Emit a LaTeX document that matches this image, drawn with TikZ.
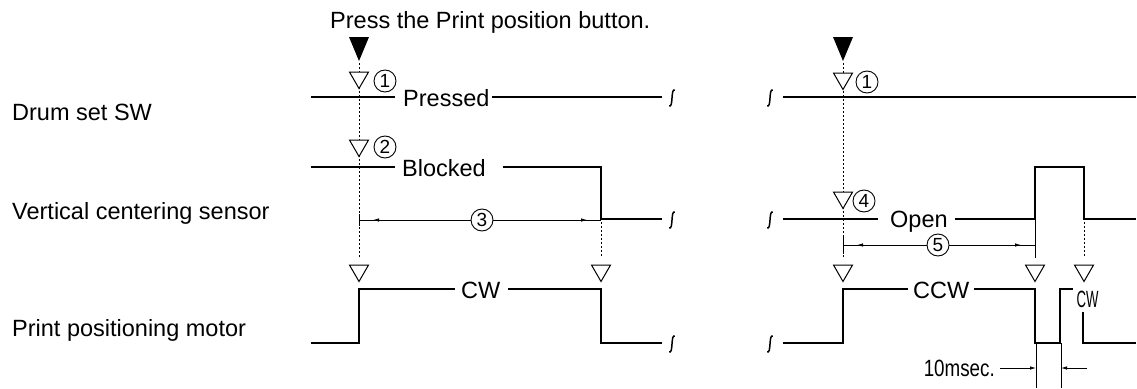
\documentclass[tikz,border=0pt]{standalone}
\usepackage{fontspec}
\setmainfont{Liberation Sans}
\usetikzlibrary{arrows.meta,shapes.geometric,decorations.markings}

\tikzset{
  brkmark/.pic={\draw[line width=1.5pt] (2.8,-8) .. controls (-1.5,-10) and (1.5,10) .. (-2.8,8);}
}

\begin{document}
\begin{tikzpicture}[x=1pt,y=-1pt,
  sig/.style={line width=2.2pt},
  thinline/.style={line width=0.8pt},
  guide/.style={line width=0.9pt, dash pattern=on 1.5pt off 2.5pt},
  txt/.style={font=\fontsize{23.5}{26}\selectfont, inner sep=0pt},
  lbl/.style={txt, anchor=base west},
  opentri/.style={draw, fill=white, regular polygon, regular polygon sides=3,
    shape border rotate=180, minimum size=22pt, inner sep=0pt, line width=1pt},
  circnum/.style={draw, fill=white, circle, minimum size=22pt, inner sep=0pt,
    line width=0.9pt, font=\fontsize{19}{19}\selectfont},
  dimarr/.style={thinline, postaction={decorate}, decoration={markings,
    mark=at position 14pt with {\arrowreversed{Latex[length=6pt,width=3.5pt]}},
    mark=at position -14pt with {\arrow{Latex[length=6pt,width=3.5pt]}}}}
]
\useasboundingbox (0,0) rectangle (1137,388);

% signal names
\node[lbl] (presslbl) at (330,28) {Press the Print position button.};
\node[lbl] (drumlbl) at (12,120) {Drum set SW};
\node[lbl] (senslbl) at (12,219) {Vertical centering sensor};
\node[lbl] (motlbl) at (12,336) {Print positioning motor};

% guide lines
\draw[guide] (359,63) -- (359,258);
\draw[guide] (843,63) -- (843,258);
\draw[guide] (601,222) -- (601,258);
\draw[guide] (1084,222) -- (1084,258);
\draw[thinline] (1035,219) -- (1035,258);
\draw[thinline] (359,214) -- (359,226);
\draw[thinline] (843,236) -- (843,254);

% left part
\draw[sig] (311,97) -- (395,97);
\draw[sig] (492,97) -- (662,97);
\node[lbl] (pressed) at (403,106) {Pressed};
\draw[sig] (311,167) -- (395,167);
\draw[sig] (503,167) -- (601,167) -- (601,219) -- (662,219);
\node[lbl] (blocked) at (402,176) {Blocked};
\draw[sig] (311,343) -- (359,343) -- (359,289) -- (455,289);
\draw[sig] (508,289) -- (601,289) -- (601,343) -- (662,343);
\node[lbl] (cwleft) at (461,298) {CW};
\pic at (672,98) {brkmark};
\pic at (672,220) {brkmark};
\pic at (672,344) {brkmark};

% right part
\draw[sig] (783,97) -- (1136,97);
\draw[sig] (783,219) -- (878,219);
\draw[sig] (955,219) -- (1035,219) -- (1035,167) -- (1084,167) -- (1084,219) -- (1136,219);
\node[lbl] (open) at (890,227) {Open};
\draw[sig] (783,343) -- (843,343) -- (843,289) -- (908,289);
\draw[sig] (974,289) -- (1035,289) -- (1035,343) -- (1060,343) -- (1060,289) -- (1073,289);
\draw[sig] (1083,312) -- (1083,343) -- (1136,343);
\node[lbl] (ccw) at (913,298) {CCW};
\node[txt, anchor=base] (cwright) at (1087.5,307) {\scalebox{0.56}[1]{CW}};
\pic at (770,98) {brkmark};
\pic at (770,220) {brkmark};
\pic at (770,344) {brkmark};

% markers
\fill (349,37) -- (369,37) -- (359,61) -- cycle;
\fill (833,37) -- (853,37) -- (843,61) -- cycle;
\node[opentri] (ta1) at (359,77.5) {};
\node[circnum] (na1) at (385,81) {1};
\node[opentri] (ta2) at (359,145.5) {};
\node[circnum] (na2) at (385,147) {2};
\node[opentri] (ta3) at (359,270.5) {};
\node[opentri] (ta4) at (601,270.5) {};
\node[opentri] (tb1) at (843,78.5) {};
\node[circnum] (nb1) at (867,82) {1};
\node[opentri] (tb2) at (843,197.5) {};
\node[circnum] (nb4) at (864,201) {4};
\node[opentri] (tb3) at (843,270.5) {};
\node[opentri] (tb4) at (1035,270.5) {};
\node[opentri] (tb5) at (1084,270.5) {};

% intervals
\coordinate (d3a) at (359,220);
\coordinate (d3b) at (601,220);
\draw[dimarr] (d3a) -- (d3b);
\node[circnum] (n3) at (482,220) {3};
\coordinate (d5a) at (843,245);
\coordinate (d5b) at (1035,245);
\draw[dimarr] (d5a) -- (d5b);
\node[circnum] (n5) at (938,245) {5};

% 10 msec
\coordinate (ma) at (1036,343);
\coordinate (mb) at (1061,343);
\draw[thinline] (ma) -- (1036,388);
\draw[thinline] (mb) -- (1061,388);
\node[txt, anchor=base east] (tenms) at (995,376) {\scalebox{0.8}[1]{10msec.}};
\coordinate (mc) at (1036,368);
\coordinate (md) at (1061,368);
\coordinate (me) at (1087,368);
\draw[thinline, -{Latex[length=6pt,width=3.5pt]}] (1000,368) -- (mc);
\draw[thinline, -{Latex[length=6pt,width=3.5pt]}] (me) -- (md);
\end{tikzpicture}
\end{document}
